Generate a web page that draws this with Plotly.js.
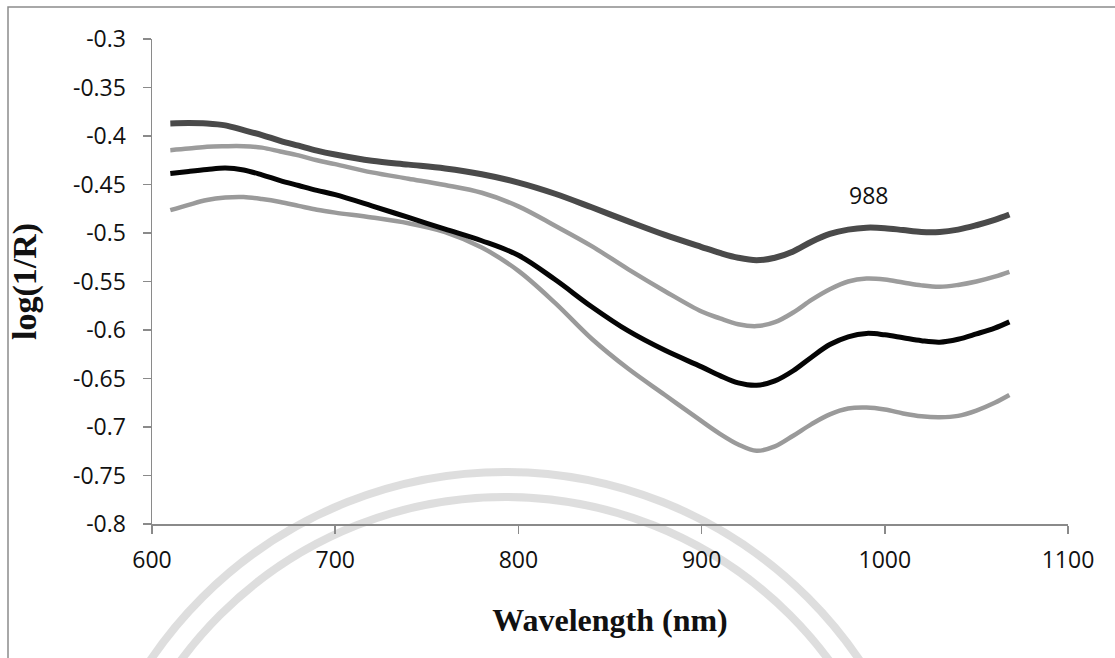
<!DOCTYPE html>
<html>
<head>
<meta charset="utf-8">
<script src="https://cdn.plot.ly/plotly-3.0.1.min.js"></script>
<style>html,body{margin:0;padding:0;background:#fff;}#chart{width:1115px;height:658px;}</style>
</head>
<body>
<div id="chart"></div>
<script>
const wavelength = [610, 620, 630, 640, 650, 660, 670, 680, 690, 700, 720, 740, 760, 780, 800, 820, 840, 860, 880, 900, 910, 920, 930, 940, 950, 960, 970, 980, 990, 1000, 1010, 1020, 1030, 1040, 1050, 1060, 1068];

const seriesTop = [-0.387, -0.3865, -0.387, -0.389, -0.394, -0.399, -0.405, -0.410, -0.415, -0.419, -0.4255, -0.4295, -0.4335, -0.4395, -0.448, -0.4595, -0.4735, -0.488, -0.502, -0.5145, -0.5205, -0.5255, -0.528, -0.5255, -0.519, -0.509, -0.501, -0.4965, -0.4945, -0.495, -0.497, -0.499, -0.499, -0.4965, -0.492, -0.4865, -0.481];

const seriesSecond = [-0.4146, -0.413, -0.411, -0.4105, -0.4105, -0.412, -0.416, -0.420, -0.425, -0.429, -0.4375, -0.444, -0.4505, -0.4585, -0.4725, -0.4925, -0.5135, -0.5375, -0.560, -0.581, -0.588, -0.594, -0.596, -0.592, -0.582, -0.569, -0.558, -0.550, -0.547, -0.548, -0.551, -0.554, -0.5555, -0.5535, -0.550, -0.545, -0.540];

const seriesBlack = [-0.4387, -0.4365, -0.4345, -0.433, -0.435, -0.440, -0.446, -0.451, -0.456, -0.4605, -0.472, -0.484, -0.496, -0.508, -0.523, -0.548, -0.576, -0.601, -0.621, -0.638, -0.647, -0.6545, -0.657, -0.6525, -0.642, -0.628, -0.615, -0.607, -0.6035, -0.605, -0.608, -0.611, -0.6125, -0.6095, -0.604, -0.598, -0.5916];

const seriesBottom = [-0.4765, -0.471, -0.466, -0.4635, -0.463, -0.465, -0.468, -0.472, -0.476, -0.479, -0.484, -0.490, -0.499, -0.515, -0.539, -0.572, -0.609, -0.640, -0.667, -0.694, -0.707, -0.718, -0.7245, -0.720, -0.709, -0.697, -0.687, -0.681, -0.680, -0.682, -0.686, -0.689, -0.690, -0.6885, -0.683, -0.675, -0.667];

const xTicks = [600, 700, 800, 900, 1000, 1100];
const yTicks = [-0.3, -0.35, -0.4, -0.45, -0.5, -0.55, -0.6, -0.65, -0.7, -0.75, -0.8];
const yTickText = ["-0.3", "-0.35", "-0.4", "-0.45", "-0.5", "-0.55", "-0.6", "-0.65", "-0.7", "-0.75", "-0.8"];
const peakLabel = {x: 991, y: -0.4613, text: "988"};

function line(y, color, width) {
  return {x: wavelength, y: y, type: 'scatter', mode: 'lines',
    line: {color: color, width: width, shape: 'spline', smoothing: 1}, hoverinfo: 'skip'};
}

const traces = [
  line(seriesBottom, '#9a9a9a', 4.5),
  line(seriesBlack, '#050505', 5),
  line(seriesSecond, '#9c9c9c', 4.5),
  line(seriesTop, '#4a4a4a', 6)
];

// layout geometry (pixels)
const W = 1115, H = 658, mL = 152, mR = 47, mT = 39, mB = 134;
const pw = W - mL - mR, ph = H - mT - mB;
const px = v => (v - mL) / pw;
const py = v => (H - mB - v) / ph;

function circle(cx, cy, r, color, width) {
  return {type: 'circle', xref: 'paper', yref: 'paper', layer: 'below',
    x0: px(cx - r), x1: px(cx + r), y0: py(cy + r), y1: py(cy - r),
    line: {color: color, width: width}};
}

const tickFont = {family: 'Open Sans, sans-serif', size: 23, color: '#111'};
const titleFont = {family: 'Liberation Serif, Times New Roman, serif', size: 32, color: '#111', weight: 'bold'};

const layout = {
  width: W, height: H,
  margin: {l: mL, r: mR, t: mT, b: mB, pad: 0},
  paper_bgcolor: '#ffffff', plot_bgcolor: 'rgba(0,0,0,0)',
  showlegend: false,
  font: tickFont,
  xaxis: {
    range: [600, 1100], tickvals: xTicks, ticktext: xTicks.map(String),
    showgrid: false, zeroline: false, showline: true, linecolor: '#8a8a8a', linewidth: 1.5,
    ticks: 'outside', ticklen: 8, tickcolor: '#8a8a8a', tickwidth: 1.5, ticklabelstandoff: 7,
    tickfont: tickFont,
    title: {text: 'Wavelength (nm)', standoff: 34, font: titleFont}
  },
  yaxis: {
    range: [-0.8, -0.3], tickvals: yTicks, ticktext: yTickText,
    showgrid: false, zeroline: false, showline: true, linecolor: '#8a8a8a', linewidth: 1.5,
    ticks: 'outside', ticklen: 8, tickcolor: '#8a8a8a', tickwidth: 1.5, ticklabelstandoff: 12,
    tickfont: tickFont,
    title: {text: 'log(1/R)', standoff: 26, font: Object.assign({}, titleFont, {size: 34})}
  },
  annotations: [{
    x: peakLabel.x, y: peakLabel.y, xref: 'x', yref: 'y', text: peakLabel.text,
    showarrow: false, font: tickFont
  }],
  shapes: [
    circle(505, 900, 428, 'rgba(190,190,190,0.5)', 8),
    circle(505, 900, 403, 'rgba(190,190,190,0.5)', 8),
    {type: 'rect', xref: 'paper', yref: 'paper', layer: 'below',
     x0: px(8), x1: px(1300), y0: py(900), y1: py(7),
     line: {color: '#8c8c8c', width: 1.5}}
  ]
};

Plotly.newPlot('chart', traces, layout, {staticPlot: true, displayModeBar: false});
</script>
</body>
</html>
